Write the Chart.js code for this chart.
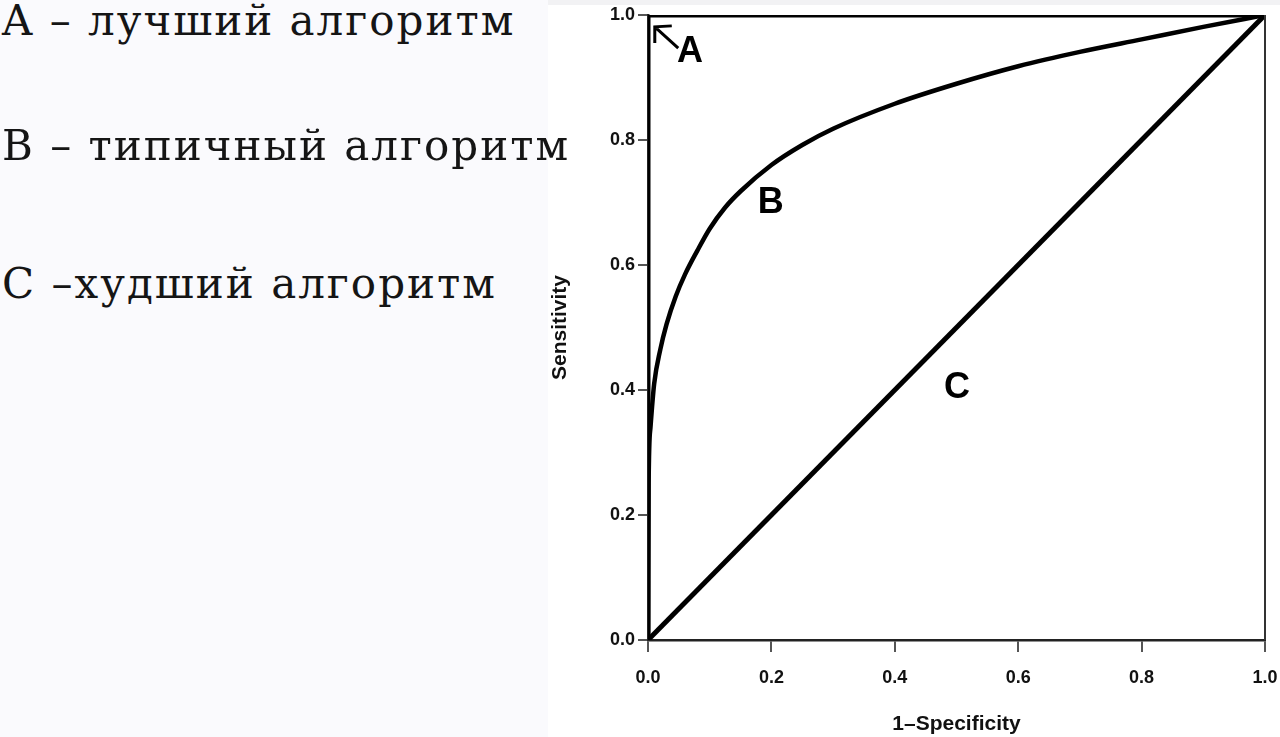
<!DOCTYPE html>
<html>
<head>
<meta charset="utf-8">
<script src="https://cdn.jsdelivr.net/npm/chart.js@4.4.0/dist/chart.umd.min.js"></script>
<style>
  html, body { margin: 0; padding: 0; }
  body { width: 1280px; height: 737px; background: #fafafd; position: relative; overflow: hidden; }
  .note { position: absolute; z-index: 2; left: 2px; font-family: "DejaVu Serif", serif; font-size: 42px; line-height: 42px; letter-spacing: 2px; color: #151515; white-space: nowrap; }
  #wrap { position: absolute; z-index: 1; left: 548px; top: 0; width: 732px; height: 737px; background: linear-gradient(#f2f2f4 0 5px, #fff 5px); }
  #roc { display: block; }
</style>
</head>
<body>
<div class="note" style="top:0px">A – лучший алгоритм</div>
<div class="note" style="top:125px">B – типичный алгоритм</div>
<div class="note" style="top:263px">C –худший алгоритм</div>
<div id="wrap"><canvas id="roc" width="732" height="737"></canvas></div>
<script>
// curve A: perfect classifier
const bestX = [0, 0, 1]
const bestY = [0, 1, 1]

// curve B: typical ROC curve
const typX = [0, 0.001, 0.004, 0.01, 0.02, 0.03, 0.045, 0.06, 0.08, 0.1, 0.125, 0.15, 0.2, 0.25, 0.3, 0.4, 0.5, 0.6, 0.7, 0.8, 0.9, 1]
const typY = [0, 0.25, 0.34, 0.41, 0.465, 0.505, 0.55, 0.585, 0.623, 0.658, 0.692, 0.718, 0.76, 0.792, 0.818, 0.858, 0.89, 0.918, 0.941, 0.961, 0.981, 1]

// curve C: random guess diagonal
const worstX = [0, 1]
const worstY = [0, 1]

// letters placed on the chart (data coordinates)
const markNames = ["A", "B", "C"]
const markX = [0.068, 0.199, 0.501]
const markY = [0.942, 0.7, 0.405]
// arrow pointing at the corner for A: tail -> tip
const arrowX = [0.049, 0.011]
const arrowY = [0.947, 0.981]

const xTicks = [0, 0.2, 0.4, 0.6, 0.8, 1.0]

function toPoints(xs, ys) {
    return xs.map((x, i) => ({ x: x, y: ys[i] }))
}

const markLabels = {
    id: "markLabels",
    afterDatasetsDraw(chart) {
        const ctx = chart.ctx
        const xs = chart.scales.x
        const ys = chart.scales.y
        ctx.save()
        ctx.fillStyle = "#000"
        ctx.font = "bold 36px 'Liberation Sans', Arial, sans-serif"
        ctx.textAlign = "center"
        ctx.textBaseline = "middle"
        markNames.forEach((name, i) => {
            ctx.fillText(name, xs.getPixelForValue(markX[i]), ys.getPixelForValue(markY[i]) + 1)
        })
        // arrow
        const x0 = xs.getPixelForValue(arrowX[0]), y0 = ys.getPixelForValue(arrowY[0])
        const x1 = xs.getPixelForValue(arrowX[1]), y1 = ys.getPixelForValue(arrowY[1])
        ctx.strokeStyle = "#000"
        ctx.lineWidth = 3
        ctx.beginPath()
        ctx.moveTo(x0, y0)
        ctx.lineTo(x1, y1)
        ctx.moveTo(x1 + 17, y1 - 1)
        ctx.lineTo(x1, y1)
        ctx.lineTo(x1, y1 + 16)
        ctx.stroke()
        // thin frame on the right edge
        ctx.lineWidth = 2
        ctx.strokeStyle = "#333"
        ctx.beginPath()
        ctx.moveTo(chart.chartArea.right, chart.chartArea.top)
        ctx.lineTo(chart.chartArea.right, chart.chartArea.bottom)
        ctx.stroke()
        ctx.restore()
    }
}

const tickFont = { family: "'Liberation Sans', Arial, sans-serif", size: 18, weight: "bold" }
const titleFont = { family: "'Liberation Sans', Arial, sans-serif", size: 21, weight: "bold" }

new Chart(document.getElementById("roc"), {
    type: "scatter",
    data: {
        datasets: [
            { label: "A", data: toPoints(bestX, bestY), showLine: true, borderColor: "#000", borderWidth: 5, pointRadius: 0, tension: 0 },
            { label: "B", data: toPoints(typX, typY), showLine: true, borderColor: "#000", borderWidth: 4.5, pointRadius: 0, cubicInterpolationMode: "monotone" },
            { label: "C", data: toPoints(worstX, worstY), showLine: true, borderColor: "#000", borderWidth: 5, pointRadius: 0 },
        ],
    },
    options: {
        responsive: false,
        animation: false,
        layout: { padding: { top: 15, right: 15, left: 0, bottom: 0 } },
        plugins: { legend: { display: false }, tooltip: { enabled: false } },
        scales: {
            x: {
                type: "linear",
                min: 0,
                max: 1,
                afterBuildTicks: scale => { scale.ticks = xTicks.map(v => ({ value: v })) },
                afterFit: scale => {
                    scale.height = 97
                    scale.paddingLeft = 0
                    scale.paddingRight = 0
                },
                grid: { drawOnChartArea: false, drawTicks: true, tickLength: 12, tickColor: "#555", lineWidth: 2 },
                border: { display: true, color: "#222", width: 2.5 },
                ticks: { font: tickFont, color: "#111", padding: 15, maxRotation: 0, callback: v => v.toFixed(1) },
                title: { display: true, text: "1–Specificity", font: titleFont, color: "#111", padding: { top: 0, bottom: 0 } },
            },
            y: {
                type: "linear",
                min: 0,
                max: 1,
                afterBuildTicks: scale => { scale.ticks = xTicks.map(v => ({ value: v })) },
                afterFit: scale => {
                    scale.width = 100
                    scale.paddingTop = 0
                    scale.paddingBottom = 0
                },
                grid: { drawOnChartArea: false, drawTicks: true, tickLength: 10, tickColor: "#555", lineWidth: 2 },
                border: { display: true, color: "#222", width: 2.5 },
                ticks: { font: tickFont, color: "#111", padding: 3, callback: v => v.toFixed(1) },
                title: { display: true, text: "Sensitivity", font: titleFont, color: "#111", padding: { top: 0, bottom: 0 } },
            },
        },
    },
    plugins: [markLabels],
})
</script>
</body>
</html>
